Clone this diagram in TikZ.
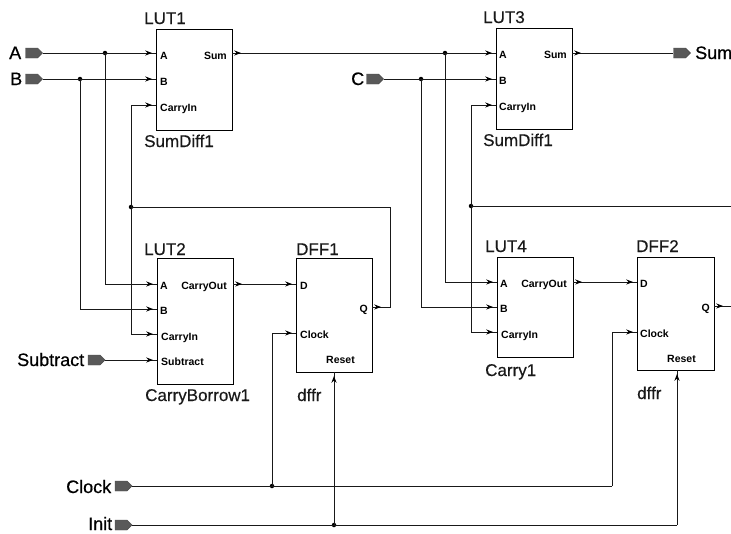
\documentclass[tikz,border=0pt]{standalone}
\usepackage{fontspec}
\setmainfont{Liberation Sans}
\newfontfamily\bigfont[FakeBold=0.35]{Liberation Sans}
\newfontfamily\portfont[FakeBold=0.6]{Liberation Sans}
\usetikzlibrary{arrows.meta,decorations.markings,shapes.symbols}
\tikzset{
  blk/.style={draw=black,line width=1.1pt,anchor=north west,inner sep=0pt,rectangle},
  wire/.style={draw=black!90,line width=1pt},
  into/.style={wire,postaction={decorate},decoration={markings,mark=at position -4pt with {\arrow[black,scale=0.9]{Stealth}}}},
  outof/.style={wire,postaction={decorate},decoration={markings,mark=at position 9pt with {\arrow[black,scale=0.9]{Stealth}}}},
  both/.style={wire,postaction={decorate},decoration={markings,mark=at position 9pt with {\arrow[black,scale=0.9]{Stealth}},mark=at position -4pt with {\arrow[black,scale=0.9]{Stealth}}}},
  jdot/.style={circle,fill=black,inner sep=0pt,minimum size=4.5pt},
  port/.style={signal,signal to=east,draw=black!70,line width=.4pt,fill=black!65,inner sep=0pt,minimum width=17pt,minimum height=10pt},
  big/.style={anchor=base west,inner sep=0pt,font=\bigfont\fontsize{17}{17}\selectfont,text=black!90},
  plabel/.style={anchor=base west,inner sep=0pt,font=\portfont\fontsize{18}{18}\selectfont,text=black},
  pinl/.style={anchor=base west,inner sep=0pt,font=\fontsize{10.5}{10.5}\selectfont\bfseries,text=black},
  pinr/.style={anchor=base east,inner sep=0pt,font=\fontsize{10.5}{10.5}\selectfont\bfseries,text=black},
}
\begin{document}
\begin{tikzpicture}[x=1pt,y=-1pt]
\useasboundingbox[fill=white] (0,0) rectangle (731,533);
% blocks
\node[blk,minimum width=76pt,minimum height=101pt] (lut1) at (156,29) {};
\node[blk,minimum width=76pt,minimum height=126pt] (lut2) at (157,258) {};
\node[blk,minimum width=76pt,minimum height=114pt] (dff1) at (296,258) {};
\node[blk,minimum width=76pt,minimum height=101pt] (lut3) at (496,28) {};
\node[blk,minimum width=76pt,minimum height=100pt] (lut4) at (497,257) {};
\node[blk,minimum width=77pt,minimum height=113pt] (dff2) at (637,257) {};
% block titles
\node[big] (t1) at (144,24) {LUT1};
\node[big] (n1) at (144,147) {SumDiff1};
\node[big] (t2) at (144,255) {LUT2};
\node[big] (n2) at (145,401) {CarryBorrow1};
\node[big] (t3) at (296,255) {DFF1};
\node[big] (n3) at (297,401) {dffr};
\node[big] (t4) at (483,23) {LUT3};
\node[big] (n4) at (483,146) {SumDiff1};
\node[big] (t5) at (485,252) {LUT4};
\node[big] (n5) at (485,376) {Carry1};
\node[big] (t6) at (636,252) {DFF2};
\node[big] (n6) at (637,399) {dffr};
% pin labels
\node[pinl] (p1a) at (160,59) {A};
\node[pinr] (p1s) at (227,59) {Sum};
\node[pinl] (p1b) at (160,85) {B};
\node[pinl] (p1c) at (160,111) {CarryIn};
\node[pinl] (p2a) at (160,289) {A};
\node[pinr] (p2o) at (227,289) {CarryOut};
\node[pinl] (p2b) at (160,314) {B};
\node[pinl] (p2c) at (161,340) {CarryIn};
\node[pinl] (p2s) at (161,365) {Subtract};
\node[pinl] (p3d) at (300,289) {D};
\node[pinr] (p3q) at (368,312) {Q};
\node[pinl] (p3k) at (300,338) {Clock};
\node[pinl] (p3r) at (326,363) {Reset};
\node[pinl] (p4a) at (499,58) {A};
\node[pinr] (p4s) at (567,58) {Sum};
\node[pinl] (p4b) at (499,84) {B};
\node[pinl] (p4c) at (499,110) {CarryIn};
\node[pinl] (p5a) at (500,287) {A};
\node[pinr] (p5o) at (567,287) {CarryOut};
\node[pinl] (p5b) at (500,312) {B};
\node[pinl] (p5c) at (501,338) {CarryIn};
\node[pinl] (p6d) at (640,287) {D};
\node[pinr] (p6q) at (710,311) {Q};
\node[pinl] (p6k) at (640,337) {Clock};
\node[pinl] (p6r) at (667,362) {Reset};
% ports
\node[plabel] (la) at (9,59) {A};
\node[plabel] (lb) at (10,85) {B};
\node[plabel] (lc) at (351,85) {C};
\node[plabel] (ls) at (17,366) {Subtract};
\node[plabel] (lk) at (66,493) {Clock};
\node[plabel] (li) at (88,530) {Init};
\node[plabel] (lo) at (695,59) {Sum};
\node[port] (pa) at (31.5,53) {};
\node[port] (pb) at (31.5,79) {};
\node[port] (pc) at (372.5,79) {};
\node[port] (ps) at (94,360) {};
\node[port] (pk) at (121,486) {};
\node[port] (pi) at (121,525) {};
\node[port] (po) at (679.5,53) {};
% junctions
\node[jdot] (ja) at (105,53) {};
\node[jdot] (jb) at (80,79) {};
\node[jdot] (jc) at (131,207) {};
\node[jdot] (jk) at (272,486) {};
\node[jdot] (ji) at (334,525) {};
\node[jdot] (js) at (445,53) {};
\node[jdot] (jd) at (421,79) {};
\node[jdot] (je) at (471,206) {};
% pins
\foreach \n/\x/\y in {l1a/156/53,l1s/232/53,l1b/156/79,l1c/156/105,l2a/157/284,l2b/157/309,l2c/157/334,l2s/157/360,l2o/233/284,
  d1d/296/284,d1k/296/333,d1r/334/372,d1q/372/307,l3a/496/53,l3s/572/53,l3b/496/79,l3c/496/105,l4a/497/282,l4b/497/307,l4c/497/332,l4o/573/282,
  d2d/637/282,d2k/637/332,d2r/677/370,d2q/714/306,
  c1/105/284,c2/80/309,c3/131/105,c4/131/334,c5/390/207,c6/390/307,c7/445/282,c8/421/307,c9/471/105,c10/471/332,c11/272/333,c12/612/486,c13/612/332,c14/677/525,e1/731/206,e2/731/306}
  {\coordinate (\n) at (\x,\y);}
% connectors
\draw[into] (pa.east) -- (l1a);
\draw[into] (pb.east) -- (l1b);
\draw[into] (ja.center) -- (c1) -- (l2a);
\draw[into] (jb.center) -- (c2) -- (l2b);
\draw[into] (jc.center) -- (c3) -- (l1c);
\draw[into] (jc.center) -- (c4) -- (l2c);
\draw[into] (ps.east) -- (l2s);
\draw[outof] (d1q) -- (d1q -| c5) -- (c5) -- (jc.center);
\draw[both] (l2o) -- (d1d);
\draw[both] (l1s) -- (l3a);
\draw[into] (pc.east) -- (l3b);
\draw[into] (js.center) -- (c7) -- (l4a);
\draw[into] (jd.center) -- (c8) -- (l4b);
\draw[into] (je.center) -- (c9) -- (l3c);
\draw[into] (je.center) -- (c10) -- (l4c);
\draw[wire] (je.center) -- (e1);
\draw[outof] (l3s) -- (po.west);
\draw[both] (l4o) -- (d2d);
\draw[outof] (d2q) -- (e2);
\draw[wire] (pk.east) -- (c12);
\draw[into] (jk.center) -- (c11) -- (d1k);
\draw[into] (c12) -- (c13) -- (d2k);
\draw[wire] (pi.east) -- (c14);
\draw[into] (ji.center) -- (d1r);
\draw[into] (c14) -- (d2r);
\end{tikzpicture}
\end{document}
